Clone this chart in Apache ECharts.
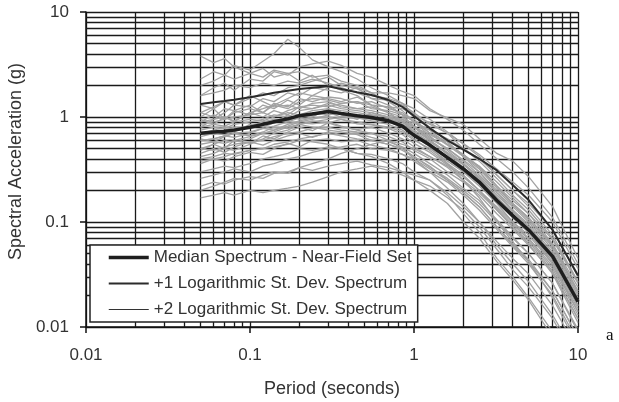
<!DOCTYPE html>
<html>
<head>
<meta charset="utf-8">
<script src="https://cdn.jsdelivr.net/npm/echarts@6/dist/echarts.min.js"></script>
<style>html,body{margin:0;padding:0;background:#fff;}#c{width:619px;height:402px;}</style>
</head>
<body>
<div id="c"></div>
<script>
// Periods (s) at which spectra are read
const periods = [0.05,0.06,0.07,0.08,0.1,0.12,0.14,0.17,0.2,0.24,0.3,0.36,0.45,0.55,0.7,0.85,1,1.25,1.6,2,2.5,3.2,4,5,7,10];
// Median and +1 log st. dev. spectra (g)
const medianSpec = [0.70,0.72,0.73,0.75,0.80,0.85,0.90,0.96,1.03,1.07,1.13,1.08,1.03,0.99,0.92,0.82,0.67,0.54,0.41,0.32,0.24,0.16,0.115,0.084,0.047,0.0174];
const plus1Spec = [1.33,1.38,1.42,1.46,1.54,1.62,1.70,1.78,1.85,1.90,1.96,1.85,1.72,1.62,1.45,1.25,1.02,0.78,0.60,0.49,0.40,0.31,0.225,0.162,0.084,0.031];
const plus2Spec = [];
// Individual record spectra (g)
const recA = [2.3,2.7,2.5,3.1,2.8,3.4,4.0,5.5,4.6,3.5,3.0,2.7,2.3,1.9,1.6,1.35,1.05,0.8,0.58,0.42,0.30,0.19,0.13,0.09,0.048,0.018];
const recB = [3.8,3.3,3.6,3.0,2.6,2.9,2.4,2.6,2.2,2.5,2.0,1.8,1.6,1.3,1.1,0.9,0.72,0.52,0.36,0.25,0.17,0.10,0.065,0.042,0.019,0.0065];
const recC = [1.6,1.9,2.1,1.8,2.3,2.2,2.7,2.5,3.0,3.2,3.4,3.1,2.6,2.4,2.0,1.75,1.6,1.2,0.95,0.75,0.55,0.40,0.30,0.21,0.11,0.04];
const recD = [0.9,0.95,1.0,0.9,1.1,1.2,1.3,1.5,1.7,1.6,1.9,2.1,1.9,1.7,1.7,1.6,1.5,1.15,0.98,0.85,0.62,0.45,0.38,0.27,0.14,0.045];
const recE = [1.3,1.2,1.4,1.3,1.25,1.5,1.4,1.7,1.6,1.9,1.8,1.7,1.9,1.5,1.45,1.3,1.1,0.85,0.7,0.5,0.38,0.26,0.18,0.13,0.07,0.027];
const recF = [1.1,1.0,1.2,1.15,1.3,1.1,1.35,1.25,1.5,1.4,1.55,1.5,1.35,1.4,1.2,1.1,0.9,0.75,0.55,0.44,0.33,0.22,0.15,0.11,0.06,0.022];
const recG = [0.8,0.95,1.1,1.3,1.6,1.4,1.25,1.3,1.2,1.35,1.4,1.25,1.2,1.15,1.05,0.95,0.8,0.62,0.5,0.38,0.28,0.19,0.14,0.10,0.055,0.02];
const recH = [0.75,0.8,0.78,0.85,0.9,0.95,1.05,1.0,1.15,1.2,1.3,1.2,1.15,1.1,1.0,0.92,0.75,0.6,0.46,0.36,0.27,0.18,0.13,0.095,0.052,0.019];
const recI = [0.65,0.7,0.68,0.72,0.85,0.8,0.88,1.05,0.95,1.0,1.2,1.05,0.95,1.1,0.98,0.85,0.72,0.55,0.42,0.33,0.25,0.16,0.11,0.08,0.042,0.016];
const recJ = [0.6,0.62,0.66,0.64,0.7,0.78,0.75,0.85,0.92,0.98,1.0,0.95,0.9,0.85,0.8,0.72,0.6,0.5,0.38,0.3,0.22,0.15,0.10,0.075,0.04,0.015];
const recK = [0.55,0.58,0.56,0.6,0.65,0.7,0.72,0.8,0.85,0.9,0.95,1.0,1.05,1.0,0.95,0.9,0.8,0.68,0.55,0.44,0.34,0.24,0.17,0.12,0.068,0.026];
const recL = [0.6,0.62,0.66,0.7,0.72,0.78,0.82,0.9,0.88,0.86,0.9,0.82,0.75,0.7,0.6,0.5,0.4,0.3,0.21,0.15,0.10,0.06,0.04,0.027,0.013,0.005];
const recM = [0.5,0.48,0.52,0.55,0.58,0.6,0.65,0.7,0.72,0.78,0.8,0.75,0.72,0.7,0.65,0.58,0.48,0.4,0.3,0.24,0.18,0.12,0.085,0.06,0.033,0.012];
const recN = [0.42,0.45,0.5,0.48,0.55,0.62,0.7,0.75,0.85,0.8,0.75,0.72,0.68,0.6,0.55,0.48,0.42,0.33,0.26,0.2,0.15,0.10,0.07,0.05,0.026,0.0095];
const recO = [0.4,0.42,0.45,0.44,0.48,0.5,0.55,0.58,0.62,0.65,0.7,0.66,0.62,0.6,0.55,0.5,0.42,0.34,0.25,0.19,0.14,0.09,0.06,0.042,0.022,0.008];
const recP = [0.38,0.4,0.42,0.45,0.48,0.5,0.52,0.55,0.6,0.58,0.55,0.5,0.45,0.42,0.36,0.3,0.25,0.2,0.15,0.10,0.07,0.042,0.028,0.018,0.008,0.003];
const recQ = [0.3,0.32,0.34,0.33,0.36,0.4,0.42,0.45,0.5,0.48,0.52,0.5,0.45,0.44,0.4,0.36,0.3,0.25,0.19,0.14,0.10,0.065,0.045,0.032,0.016,0.006];
const recR = [0.22,0.24,0.23,0.25,0.27,0.26,0.29,0.3,0.33,0.31,0.34,0.36,0.38,0.35,0.33,0.3,0.28,0.25,0.18,0.12,0.08,0.045,0.03,0.019,0.009,0.0035];
const recS = [0.17,0.18,0.19,0.18,0.2,0.19,0.2,0.21,0.22,0.24,0.27,0.3,0.32,0.34,0.31,0.28,0.25,0.22,0.17,0.13,0.09,0.055,0.035,0.024,0.012,0.0045];
const recT = [0.2,0.22,0.24,0.26,0.25,0.28,0.3,0.29,0.33,0.36,0.4,0.45,0.5,0.55,0.6,0.55,0.5,0.42,0.34,0.27,0.2,0.14,0.10,0.07,0.038,0.014];
const recU = [1.6,1.7,1.8,2.0,1.9,2.1,2.0,2.2,2.1,2.3,2.1,1.9,1.7,1.5,1.3,1.05,0.8,0.6,0.44,0.33,0.25,0.17,0.12,0.085,0.045,0.016];
const recV = [0.85,0.9,0.95,1.0,1.05,1.1,1.0,1.15,1.25,1.3,1.25,1.35,1.4,1.3,1.25,1.2,1.05,0.88,0.7,0.56,0.44,0.32,0.24,0.18,0.10,0.036];
const recW = [0.7,0.68,0.75,0.8,0.78,0.85,0.92,0.9,0.98,1.05,1.1,1.0,0.98,0.92,0.85,0.75,0.62,0.48,0.36,0.28,0.2,0.13,0.09,0.062,0.032,0.011];
const recX = [0.8,0.85,0.82,0.9,0.95,0.92,1.0,1.1,1.05,1.15,1.2,1.15,1.1,1.05,1.0,0.9,0.72,0.58,0.45,0.35,0.26,0.17,0.125,0.09,0.05,0.018];
const recY = [1.0,1.2,0.95,1.15,1.05,1.3,1.2,1.45,1.3,1.6,1.5,1.4,1.55,1.3,1.25,1.05,0.95,0.7,0.58,0.42,0.34,0.22,0.16,0.12,0.062,0.024];
const recZ = [0.48,0.55,0.5,0.6,0.56,0.66,0.62,0.72,0.8,0.74,0.88,0.8,0.76,0.8,0.7,0.62,0.52,0.42,0.33,0.25,0.19,0.13,0.09,0.065,0.034,0.012];
const recAA = [0.95,0.85,1.0,0.92,1.1,1.0,1.15,1.05,1.25,1.2,1.35,1.3,1.2,1.25,1.1,1.0,0.82,0.64,0.5,0.39,0.3,0.2,0.145,0.105,0.058,0.021];
const recAB = [0.36,0.4,0.38,0.42,0.46,0.44,0.5,0.56,0.52,0.6,0.62,0.58,0.6,0.54,0.5,0.44,0.38,0.3,0.24,0.18,0.13,0.085,0.058,0.04,0.02,0.0072];
const recAC = [1.1,1.25,1.4,1.3,1.5,1.7,1.6,1.9,2.0,2.2,2.4,2.0,1.85,1.6,1.5,1.35,1.2,0.95,0.72,0.55,0.42,0.28,0.2,0.14,0.075,0.027];
const recAD = [0.5,0.55,0.6,0.58,0.62,0.7,0.75,0.82,0.9,0.95,1.05,1.1,1.0,1.05,1.0,0.95,0.88,0.75,0.62,0.5,0.4,0.28,0.2,0.15,0.085,0.03];
const recAE = [0.45,0.5,0.46,0.52,0.58,0.54,0.6,0.66,0.7,0.64,0.72,0.68,0.7,0.64,0.58,0.52,0.45,0.36,0.28,0.21,0.16,0.105,0.072,0.05,0.026,0.009];
const recAF = [2.0,2.2,2.5,2.3,2.6,2.4,2.8,2.6,2.7,2.4,2.5,2.2,2.0,1.7,1.4,1.15,0.9,0.66,0.48,0.36,0.26,0.17,0.115,0.08,0.04,0.014];
const recAG = [0.7,0.75,0.8,0.78,0.82,0.9,0.95,0.92,1.0,1.1,1.05,1.1,1.0,0.95,0.9,0.8,0.66,0.52,0.4,0.31,0.23,0.155,0.11,0.08,0.044,0.016];
const recAH = [0.26,0.28,0.3,0.32,0.3,0.34,0.36,0.4,0.42,0.46,0.5,0.52,0.55,0.5,0.48,0.44,0.4,0.32,0.25,0.19,0.14,0.09,0.062,0.044,0.022,0.008];
const recAI = [0.9,1.05,0.95,1.1,1.2,1.1,1.3,1.2,1.4,1.5,1.45,1.35,1.4,1.2,1.15,1.05,0.9,0.7,0.54,0.42,0.32,0.21,0.15,0.11,0.06,0.022];
const recAJ = [0.62,0.58,0.65,0.7,0.66,0.72,0.8,0.78,0.85,0.92,0.88,0.95,0.86,0.84,0.78,0.68,0.56,0.46,0.35,0.27,0.2,0.135,0.095,0.068,0.036,0.013];
const records = [recA,recB,recC,recD,recE,recF,recG,recH,recI,recJ,recK,recL,recM,recN,recO,recP,recQ,recR,recS,recT,recU,recV,recW,recX,
                 recY,recZ,recAA,recAB,recAC,recAD,recAE,recAF,recAG,recAH,recAI,recAJ];

// Axis ticks and minor grid values
const xTickLabels = ['0.01','0.1','1','10'];
const yTickLabels = ['0.01','0.1','1','10'];
const xMinor = [0.02,0.03,0.04,0.05,0.06,0.07,0.08,0.09,0.2,0.3,0.4,0.5,0.6,0.7,0.8,0.9,2,3,4,5,6,7,8,9];
const yMinor = [0.02,0.03,0.04,0.05,0.06,0.07,0.08,0.09,0.2,0.3,0.4,0.5,0.6,0.7,0.8,0.9,2,3,4,5,6,7,8,9];

const names = ['Median Spectrum - Near-Field Set','+1 Logarithmic St. Dev. Spectrum','+2 Logarithmic St. Dev. Spectrum'];

function pairs(arr){ return arr.map((v,i)=>[periods[i], v]); }
function tickFmt(labels){ return function(v){ const k = Math.round(Math.log10(v)) + 2; return labels[k] !== undefined ? labels[k] : ''; }; }

const FONT = 'Liberation Sans, Arial, sans-serif';
const series = [];
series.push({
  type:'line', name:'grid', data:[], silent:true, z:1,
  markLine:{
    silent:true, symbol:['none','none'], z:1, animation:false,
    label:{show:false}, lineStyle:{color:'#1a1a1a', width:1.3, type:'solid'},
    emphasis:{disabled:true},
    data: xMinor.map(v=>({xAxis:v})).concat(yMinor.map(v=>({yAxis:v})))
  }
});
records.forEach((r,i)=>{
  series.push({type:'line', name:'rec'+i, data:pairs(r), symbol:'none', z:2,
    lineStyle:{color:'#a2a2a2', width:1.3}, silent:true});
});
series.push({type:'line', name:names[2], data:pairs(plus2Spec), symbol:'none', z:3,
  itemStyle:{color:'#333'}, lineStyle:{color:'#333', width:1}});
series.push({type:'line', name:names[1], data:pairs(plus1Spec), symbol:'none', z:3,
  itemStyle:{color:'#2b2b2b'}, lineStyle:{color:'#2b2b2b', width:2}});
series.push({type:'line', name:names[0], data:pairs(medianSpec), symbol:'none', z:4,
  itemStyle:{color:'#1e1e1e'}, lineStyle:{color:'#1e1e1e', width:3.5}});

const chart = echarts.init(document.getElementById('c'), null, {renderer:'canvas'});
chart.setOption({
  animation:false,
  backgroundColor:'#fff',
  grid:{left:86, right:41, top:12, bottom:75, containLabel:false, outerBoundsMode:'none'},
  xAxis:{
    type:'log', logBase:10, min:0.01, max:10,
    name:'Period (seconds)', nameLocation:'middle', nameGap:53,
    nameTextStyle:{fontFamily:FONT, fontSize:18, color:'#333'},
    axisLine:{show:true, lineStyle:{color:'#111', width:1.5}},
    axisTick:{show:true, inside:false, length:6, lineStyle:{color:'#111', width:1.5}},
    axisLabel:{formatter:tickFmt(xTickLabels), fontFamily:FONT, fontSize:17, color:'#333', margin:20},
    splitLine:{show:true, lineStyle:{color:'#1a1a1a', width:1.3}},
    minorTick:{show:false}, minorSplitLine:{show:false}
  },
  yAxis:{
    type:'log', logBase:10, min:0.01, max:10,
    name:'Spectral Acceleration (g)', nameLocation:'middle', nameGap:58,
    nameTextStyle:{fontFamily:FONT, fontSize:18, color:'#333', padding:[0,0,0,16]},
    axisLine:{show:true, lineStyle:{color:'#111', width:1.5}},
    axisTick:{show:true, inside:false, length:6, lineStyle:{color:'#111', width:1.5}},
    axisLabel:{formatter:tickFmt(yTickLabels), fontFamily:FONT, fontSize:17, color:'#333', margin:17},
    splitLine:{show:true, lineStyle:{color:'#1a1a1a', width:1.3}},
    minorTick:{show:false}, minorSplitLine:{show:false}
  },
  legend:{
    data:[
      {name:names[0], lineStyle:{width:3.5, color:'#1e1e1e'}},
      {name:names[1], lineStyle:{width:2, color:'#2b2b2b'}},
      {name:names[2], lineStyle:{width:1, color:'#333'}}
    ],
    orient:'vertical', left:90, top:245,
    itemWidth:40, itemHeight:14, itemGap:9,
    padding:[4,6,4,17],
    backgroundColor:'#fff', borderColor:'#222', borderWidth:1.5, borderRadius:0,
    itemStyle:{opacity:0},
    textStyle:{fontFamily:FONT, fontSize:17, color:'#333'},
    selectedMode:false, z:10
  },
  graphic:[{type:'text', left:606, top:327, style:{text:'a', font:'17px "Liberation Serif", serif', fill:'#111'}}],
  series:series
});
</script>
</body>
</html>
